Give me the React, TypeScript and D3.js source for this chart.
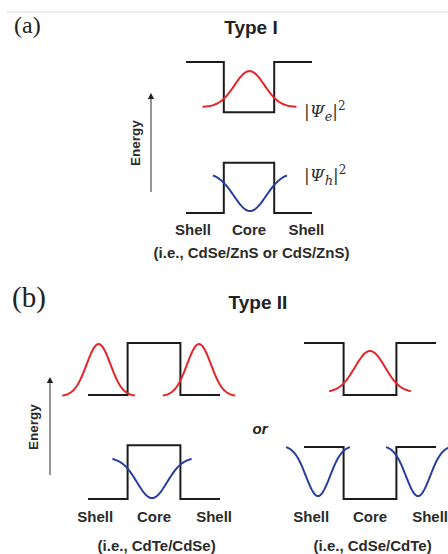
import React from "react";
import * as d3 from "d3";

// ---------- data ----------
// region boundaries along the radial coordinate (shell | core | shell), normalised 0..1
const regionBounds = [0, 0.3, 0.7, 1];
const regionLabels = ["Shell", "Core", "Shell"];
const regionLabelPos = [0.055, 0.5, 0.955];

// band-edge energies (normalised) for [shell, core, shell]
const typeICB = [1, 0.667, 1];
const typeIVB = [0, 0.333, 0];
const typeIIaCB = [0.667, 1, 0.667];
const typeIIaVB = [0, 0.345, 0];
const typeIIbCB = [1, 0.667, 1];
const typeIIbVB = [0.333, 0, 0.333];

// wavefunction probability densities: centre, sigma, half-span (x units), base & amplitude (energy units)
const typeIElectron = [{ c: 0.504, s: 0.119, span: 0.373, base: 0.702, amp: 0.238 }];
const typeIHole = [{ c: 0.508, s: 0.127, span: 0.294, base: 0.266, amp: -0.253 }];
const typeIIaElectron = [
  { c: 0.08, s: 0.091, span: 0.275, base: 0.66, amp: 0.333 },
  { c: 0.841, s: 0.091, span: 0.275, base: 0.66, amp: 0.333 },
];
const typeIIaHole = [{ c: 0.485, s: 0.114, span: 0.3, base: 0.264, amp: -0.258 }];
const typeIIbElectron = [{ c: 0.5, s: 0.114, span: 0.31, base: 0.685, amp: 0.264 }];
const typeIIbHole = [
  { c: 0.106, s: 0.091, span: 0.242, base: 0.342, amp: -0.323 },
  { c: 0.864, s: 0.091, span: 0.242, base: 0.342, amp: -0.323 },
];

const captions = ["(i.e., CdSe/ZnS or CdS/ZnS)", "(i.e., CdTe/CdSe)", "(i.e., CdSe/CdTe)"];
const panelLetters = ["(a)", "(b)"];
const panelTitles = ["Type I", "Type II"];

// ---------- layout ----------
const W = 448;
const H = 554;
const RED = "#e4262b";
const BLUE = "#2a3f9d";
const BAND = "#1c1c1c";
const TXT = "#2b2b2b";
const SANS = "Liberation Sans, Arial, sans-serif";
const SERIF = "Liberation Serif, Times New Roman, serif";

type Wave = { c: number; s: number; span: number; base: number; amp: number };

const panels = [
  { x: [186, 312], y: [213, 62], cb: typeICB, vb: typeIVB, el: typeIElectron, ho: typeIHole, caption: captions[0], labelY: 235, capY: 258 },
  { x: [88, 220], y: [499, 343], cb: typeIIaCB, vb: typeIIaVB, el: typeIIaElectron, ho: typeIIaHole, caption: captions[1], labelY: 522, capY: 551 },
  { x: [304, 436], y: [499, 343], cb: typeIIbCB, vb: typeIIbVB, el: typeIIbElectron, ho: typeIIbHole, caption: captions[2], labelY: 522, capY: 551 },
];

function stepPoints(vals: number[]): [number, number][] {
  const pts: [number, number][] = [];
  vals.forEach((v, i) => {
    pts.push([regionBounds[i], v]);
    pts.push([regionBounds[i + 1], v]);
  });
  return pts;
}

function wavePoints(w: Wave): [number, number][] {
  const xs = d3.range(0, 81).map((i) => w.c - w.span + (2 * w.span * i) / 80);
  return xs.map((x) => [x, w.base + w.amp * Math.exp(-((x - w.c) ** 2) / (2 * w.s * w.s))]);
}

function Panel({ p }: { p: (typeof panels)[number] }) {
  const xs = d3.scaleLinear().domain([0, 1]).range(p.x);
  const ys = d3.scaleLinear().domain([0, 1]).range(p.y);
  const line = d3
    .line<[number, number]>()
    .x((d) => xs(d[0]))
    .y((d) => ys(d[1]));
  return (
    <g>
      {[p.cb, p.vb].map((b, i) => (
        <path key={"b" + i} d={line(stepPoints(b)) || ""} fill="none" stroke={BAND} strokeWidth={2} strokeLinejoin="miter" />
      ))}
      {p.el.map((w, i) => (
        <path key={"e" + i} d={line(wavePoints(w)) || ""} fill="none" stroke={RED} strokeWidth={2} />
      ))}
      {p.ho.map((w, i) => (
        <path key={"h" + i} d={line(wavePoints(w)) || ""} fill="none" stroke={BLUE} strokeWidth={2} />
      ))}
      {regionLabels.map((t, i) => (
        <text key={"l" + i} x={xs(regionLabelPos[i])} y={p.labelY} textAnchor="middle" fontFamily={SANS} fontWeight="bold" fontSize={15} fill={TXT}>
          {t}
        </text>
      ))}
      <text x={xs(0.52)} y={p.capY} textAnchor="middle" fontFamily={SANS} fontWeight="bold" fontSize={15} fill={TXT}>
        {p.caption}
      </text>
    </g>
  );
}

function EnergyAxis({ x, y0, y1, tx, ty }: { x: number; y0: number; y1: number; tx: number; ty: number }) {
  return (
    <g>
      <line x1={x} x2={x} y1={y0} y2={y1 + 5} stroke="#7a7a7a" strokeWidth={1.6} />
      <path d={`M${x - 3.2},${y1 + 6} L${x},${y1} L${x + 3.2},${y1 + 6} Z`} fill="#222" />
      <text
        x={tx}
        y={ty}
        transform={`rotate(-90 ${tx} ${ty})`}
        textAnchor="middle"
        dominantBaseline="central"
        fontFamily={SANS}
        fontWeight="bold"
        fontSize={13.5}
        fill={TXT}
      >
        Energy
      </text>
    </g>
  );
}

function Psi({ x, y, sub }: { x: number; y: number; sub: string }) {
  return (
    <text x={x} y={y} fontFamily="DejaVu Serif, serif" fontSize={17} fill="#333">
      <tspan>|</tspan>
      <tspan fontStyle="italic">Ψ</tspan>
      <tspan fontStyle="italic" fontSize={13} dy={4}>
        {sub}
      </tspan>
      <tspan dy={-4}>|</tspan>
      <tspan fontSize={12} dy={-7}>
        2
      </tspan>
    </text>
  );
}

export default function App() {
  return (
    <svg width={W} height={H} style={{ position: "absolute", left: 0, top: 0, background: "#fff" }}>
      <rect width={W} height={H} fill="#fff" />
      <line x1={6} x2={W} y1={12} y2={12} stroke="#dcdcdc" strokeWidth={1} />
      <text x={14} y={33} fontFamily={SERIF} fontSize={24} fill="#222">
        {panelLetters[0]}
      </text>
      <text x={12} y={307} fontFamily={SERIF} fontSize={29} fill="#222">
        {panelLetters[1]}
      </text>
      <text x={251} y={34} textAnchor="middle" fontFamily={SANS} fontWeight="bold" fontSize={19} fill="#222">
        {panelTitles[0]}
      </text>
      <text x={258} y={309} textAnchor="middle" fontFamily={SANS} fontWeight="bold" fontSize={19} fill="#222">
        {panelTitles[1]}
      </text>
      {panels.map((p, i) => (
        <Panel key={i} p={p} />
      ))}
      <EnergyAxis x={151} y0={192} y1={93} tx={135} ty={143} />
      <EnergyAxis x={50} y0={475} y1={377} tx={33} ty={427} />
      <Psi x={304} y={117} sub="e" />
      <Psi x={304} y={181} sub="h" />
      <text x={260} y={434} textAnchor="middle" fontFamily={SANS} fontWeight="bold" fontStyle="italic" fontSize={15} fill="#222">
        or
      </text>
    </svg>
  );
}
